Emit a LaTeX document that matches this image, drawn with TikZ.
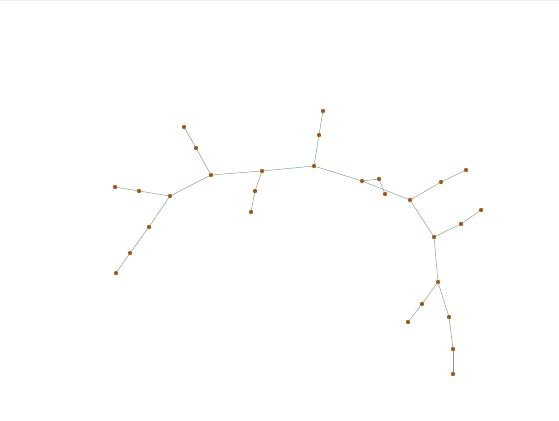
\documentclass[tikz,border=0pt]{standalone}
\usepackage{tikz}

\definecolor{nodebrown}{RGB}{150,85,35}
\definecolor{edgegreen}{RGB}{120,162,120}

\tikzset{
  pt/.style={circle, fill=nodebrown, draw=nodebrown!70!orange, line width=0.3pt, inner sep=0pt, minimum size=4pt},
  br/.style={draw=edgegreen, line width=0.45pt}
}

\begin{document}
\begin{tikzpicture}[x=1pt, y=-1pt]
\useasboundingbox (0,0) rectangle (559,420);
\fill[gray!15] (0,0) rectangle (559,1.5);

% left arm
\node[pt] (i) at (115,187) {};
\node[pt] (h) at (139,191) {};
\node[pt] (g) at (170,196) {};
\node[pt] (j) at (149,227) {};
\node[pt] (k) at (130,253) {};
\node[pt] (l) at (116,273) {};

\node[pt] (a) at (184,127) {};
\node[pt] (b) at (196,148) {};
\node[pt] (c) at (211,175) {};
\node[pt] (d) at (262,171) {};
\node[pt] (e) at (255,191) {};
\node[pt] (f) at (251,212) {};

% middle
\node[pt] (m) at (323,111) {};
\node[pt] (n) at (319,135) {};
\node[pt] (o) at (314,166) {};
\node[pt] (p) at (362,181) {};
\node[pt] (q) at (379,179) {};
\node[pt] (r) at (385,194) {};

% right arm
\node[pt] (s) at (410,200) {};
\node[pt] (t) at (441,182) {};
\node[pt] (u) at (466,170) {};
\node[pt] (v) at (434,237) {};
\node[pt] (w) at (461,224) {};
\node[pt] (x) at (481,210) {};
\node[pt] (y) at (438,282) {};
\node[pt] (z) at (422,304) {};
\node[pt] (aa) at (408,322) {};
\node[pt] (ab) at (449,317) {};
\node[pt] (ac) at (453,349) {};
\node[pt] (ad) at (453,374) {};

\draw[br] (i) -- (h);
\draw[br] (h) -- (g);
\draw[br] (g) -- (j);
\draw[br] (j) -- (k);
\draw[br] (k) -- (l);
\draw[br] (g) -- (c);
\draw[br] (c) -- (b);
\draw[br] (b) -- (a);
\draw[br] (c) -- (d);
\draw[br] (d) -- (e);
\draw[br] (e) -- (f);
\draw[br] (d) -- (o);
\draw[br] (o) -- (n);
\draw[br] (n) -- (m);
\draw[br] (o) -- (p);
\draw[br] (p) -- (q);
\draw[br] (q) -- (r);
\draw[br] (p) -- (s);
\draw[br] (s) -- (t);
\draw[br] (t) -- (u);
\draw[br] (s) -- (v);
\draw[br] (v) -- (w);
\draw[br] (w) -- (x);
\draw[br] (v) -- (y);
\draw[br] (y) -- (z);
\draw[br] (z) -- (aa);
\draw[br] (y) -- (ab);
\draw[br] (ab) -- (ac);
\draw[br] (ac) -- (ad);

\end{tikzpicture}
\end{document}
